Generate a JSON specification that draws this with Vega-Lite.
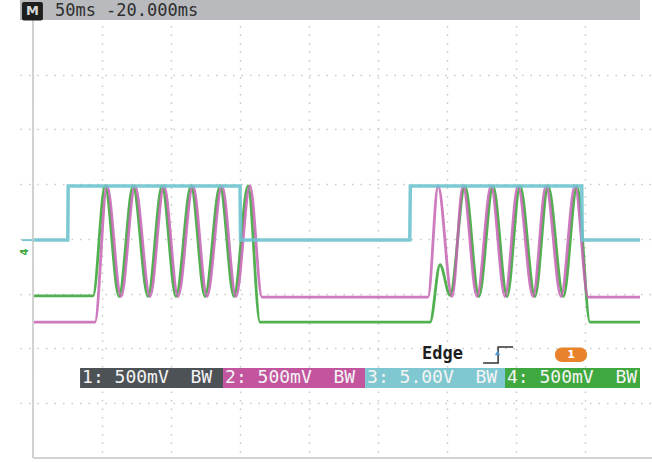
{
  "$schema": "https://vega.github.io/schema/vega-lite/v6.json",
  "width": 632,
  "height": 458,
  "autosize": {"type": "none"},
  "padding": {"left": 20, "top": 0, "right": 0, "bottom": 4},
  "background": "white",
  "config": {"view": {"stroke": null}},
  "data": {"values": [{}]},
  "datasets": {
    "traces": [
      {"ch": "4", "t": 0, "v": 2.96}, {"ch": "4", "t": 43.5, "v": 2.96}, {"ch": "4", "t": 52.2, "v": 4.97}, {"ch": "4", "t": 62.3, "v": 2.95}, {"ch": "4", "t": 72.5, "v": 4.97}, {"ch": "4", "t": 83.3, "v": 2.95}, {"ch": "4", "t": 93.5, "v": 4.97}, {"ch": "4", "t": 103.6, "v": 2.95}, {"ch": "4", "t": 114.5, "v": 4.97}, {"ch": "4", "t": 124.6, "v": 2.95}, {"ch": "4", "t": 135.5, "v": 4.97}, {"ch": "4", "t": 145.6, "v": 2.95}, {"ch": "4", "t": 155.8, "v": 4.97}, {"ch": "4", "t": 164.5, "v": 2.48}, {"ch": "4", "t": 287.7, "v": 2.48}, {"ch": "4", "t": 294.9, "v": 3.53}, {"ch": "4", "t": 302.2, "v": 2.97}, {"ch": "4", "t": 313.0, "v": 4.97}, {"ch": "4", "t": 323.1, "v": 2.95}, {"ch": "4", "t": 333.3, "v": 4.97}, {"ch": "4", "t": 343.5, "v": 2.95}, {"ch": "4", "t": 352.9, "v": 4.97}, {"ch": "4", "t": 363.7, "v": 2.95}, {"ch": "4", "t": 373.2, "v": 4.97}, {"ch": "4", "t": 384.3, "v": 2.95}, {"ch": "4", "t": 394.2, "v": 4.97}, {"ch": "4", "t": 403.6, "v": 2.48}, {"ch": "4", "t": 439.8, "v": 2.48},
      {"ch": "2", "t": 0, "v": 2.48}, {"ch": "2", "t": 44.9, "v": 2.48}, {"ch": "2", "t": 53.6, "v": 4.97}, {"ch": "2", "t": 63.8, "v": 2.95}, {"ch": "2", "t": 73.9, "v": 4.97}, {"ch": "2", "t": 84.8, "v": 2.95}, {"ch": "2", "t": 94.9, "v": 4.97}, {"ch": "2", "t": 105.1, "v": 2.95}, {"ch": "2", "t": 115.9, "v": 4.97}, {"ch": "2", "t": 126.1, "v": 2.95}, {"ch": "2", "t": 136.9, "v": 4.97}, {"ch": "2", "t": 147.1, "v": 2.95}, {"ch": "2", "t": 157.2, "v": 4.97}, {"ch": "2", "t": 165.9, "v": 2.94}, {"ch": "2", "t": 286.2, "v": 2.94}, {"ch": "2", "t": 293.5, "v": 4.97}, {"ch": "2", "t": 303.6, "v": 2.95}, {"ch": "2", "t": 311.6, "v": 4.97}, {"ch": "2", "t": 321.7, "v": 2.95}, {"ch": "2", "t": 331.9, "v": 4.97}, {"ch": "2", "t": 342.0, "v": 2.95}, {"ch": "2", "t": 351.4, "v": 4.97}, {"ch": "2", "t": 362.3, "v": 2.95}, {"ch": "2", "t": 371.7, "v": 4.97}, {"ch": "2", "t": 382.6, "v": 2.95}, {"ch": "2", "t": 392.7, "v": 4.97}, {"ch": "2", "t": 402.2, "v": 2.94}, {"ch": "2", "t": 439.8, "v": 2.94},
      {"ch": "3", "t": 0, "v": 3.98}, {"ch": "3", "t": 25.2, "v": 3.98}, {"ch": "3", "t": 25.5, "v": 4.97}, {"ch": "3", "t": 150.0, "v": 4.97}, {"ch": "3", "t": 150.4, "v": 3.98}, {"ch": "3", "t": 273.0, "v": 3.98}, {"ch": "3", "t": 273.4, "v": 4.97}, {"ch": "3", "t": 397.6, "v": 4.97}, {"ch": "3", "t": 398.0, "v": 3.98}, {"ch": "3", "t": 439.8, "v": 3.98}
    ],
    "channels": [
      {"ch": "1", "label": "1: 500mV\u00a0\u00a0BW", "start": 34.1, "end": 137.7},
      {"ch": "2", "label": "2: 500mV\u00a0\u00a0BW", "start": 137.7, "end": 240.6},
      {"ch": "3", "label": "3: 5.00V\u00a0\u00a0BW", "start": 240.6, "end": 342.0},
      {"ch": "4", "label": "4: 500mV\u00a0\u00a0BW", "start": 342.0, "end": 439.8}
    ]
  },
  "layer": [
    {
      "data": {"name": "traces"},
      "transform": [{"filter": "datum.ch == '4'"}],
      "mark": {"type": "line", "interpolate": "monotone", "strokeWidth": 2.8, "opacity": 0.9},
      "encoding": {
        "x": {"field": "t", "type": "quantitative", "scale": {"domain": [-9.42, 448.5], "nice": false, "zero": false},
          "axis": {"values": [0, 50, 100, 150, 200, 250, 300, 350, 400], "grid": true, "gridColor": "#c8c8c8", "gridDash": [1.5, 7], "gridWidth": 1.5, "labels": false, "ticks": false, "domain": false, "title": null}},
        "y": {"field": "v", "type": "quantitative", "scale": {"domain": [0, 8.365], "nice": false, "zero": false},
          "axis": {"values": [1, 2, 3, 4, 5, 6, 7], "grid": true, "gridColor": "#c8c8c8", "gridDash": [1.5, 7], "gridWidth": 1.5, "labels": false, "ticks": false, "domain": false, "title": null}},
        "color": {"field": "ch", "type": "nominal", "scale": {"domain": ["2", "3", "4"], "range": ["#c463b3", "#6fc4cf", "#3ea93e"]}, "legend": null}
      }
    },
    {
      "data": {"name": "traces"},
      "transform": [{"filter": "datum.ch == '2'"}],
      "mark": {"type": "line", "interpolate": "monotone", "strokeWidth": 2.8, "opacity": 0.85},
      "encoding": {
        "x": {"field": "t", "type": "quantitative"},
        "y": {"field": "v", "type": "quantitative"},
        "color": {"field": "ch", "type": "nominal", "legend": null}
      }
    },
    {
      "data": {"name": "traces"},
      "transform": [{"filter": "datum.ch == '3'"}],
      "mark": {"type": "line", "interpolate": "linear", "strokeWidth": 3.5, "opacity": 0.9},
      "encoding": {
        "x": {"field": "t", "type": "quantitative"},
        "y": {"field": "v", "type": "quantitative"},
        "color": {"field": "ch", "type": "nominal", "legend": null}
      }
    },
    {
      "mark": {"type": "rule", "color": "#d2d2d2", "strokeWidth": 2},
      "encoding": {"x": {"datum": 0}, "y": {"datum": 0}, "y2": {"datum": 8}}
    },
    {
      "mark": {"type": "rule", "color": "#d2d2d2", "strokeWidth": 2},
      "encoding": {"y": {"datum": 0}, "x": {"datum": 0}, "x2": {"datum": 448.5}}
    },
    {
      "mark": {"type": "rule", "color": "#7fc7d0", "strokeWidth": 2},
      "encoding": {"y": {"datum": 3.98}, "x": {"datum": -8.0}, "x2": {"datum": 0}}
    },
    {
      "mark": {"type": "text", "text": "4", "font": "DejaVu Sans", "fontSize": 10, "fontWeight": "bold", "angle": 270, "color": "#3ea93e"},
      "encoding": {"x": {"datum": -5.8}, "y": {"datum": 3.76}}
    },
    {
      "mark": {"type": "rect", "color": "#b9babe"},
      "encoding": {"x": {"datum": -9.42}, "x2": {"datum": 439.8}, "y": {"datum": 8.0}, "y2": {"datum": 8.365}}
    },
    {
      "mark": {"type": "rect", "color": "#1e1e1e", "cornerRadius": 2},
      "encoding": {"x": {"datum": -8.0}, "x2": {"datum": 7.2}, "y": {"datum": 7.99}, "y2": {"datum": 8.33}}
    },
    {
      "mark": {"type": "text", "text": "M", "font": "DejaVu Sans", "fontSize": 13, "fontWeight": "bold", "color": "#d8d8d8", "align": "center", "baseline": "middle"},
      "encoding": {"x": {"datum": -0.4}, "y": {"datum": 8.16}}
    },
    {
      "mark": {"type": "text", "text": "50ms -20.000ms", "font": "DejaVu Sans Mono", "fontSize": 17, "color": "#2e2e2e", "align": "left", "baseline": "middle"},
      "encoding": {"x": {"datum": 15.9}, "y": {"datum": 8.165}}
    },
    {
      "data": {"name": "channels"},
      "mark": {"type": "rect"},
      "encoding": {
        "x": {"field": "start", "type": "quantitative"},
        "x2": {"field": "end"},
        "y": {"datum": 1.279},
        "y2": {"datum": 1.644},
        "fill": {"field": "ch", "type": "nominal", "scale": {"domain": ["1", "2", "3", "4"], "range": ["#4d5257", "#c3559f", "#80c8d1", "#3fa83f"]}, "legend": null}
      }
    },
    {
      "data": {"name": "channels"},
      "mark": {"type": "text", "font": "DejaVu Sans Mono", "fontSize": 18, "color": "#f4f4f4", "align": "left", "baseline": "middle", "dx": 2},
      "encoding": {
        "x": {"field": "start", "type": "quantitative"},
        "y": {"datum": 1.461},
        "text": {"field": "label"}
      }
    },
    {
      "mark": {"type": "text", "text": "Edge", "font": "DejaVu Sans Mono", "fontSize": 17, "fontWeight": "bold", "color": "#1e1e1e", "align": "left", "baseline": "middle"},
      "encoding": {"x": {"datum": 281.9}, "y": {"datum": 1.9}}
    },
    {
      "mark": {"type": "point", "shape": "M -1 0.53 L 0 0.53 L 0 -0.53 L 1 -0.53", "filled": false, "size": 900, "stroke": "#333333", "strokeWidth": 1.5, "opacity": 1},
      "encoding": {"x": {"datum": 337.0}, "y": {"datum": 1.881}}
    },
    {
      "mark": {"type": "point", "shape": "triangle-up", "filled": true, "size": 30, "color": "#4f96cf", "opacity": 1},
      "encoding": {"x": {"datum": 336.6}, "y": {"datum": 1.92}}
    },
    {
      "mark": {"type": "rect", "color": "#e8822b", "cornerRadius": 7},
      "encoding": {"x": {"datum": 378.2}, "x2": {"datum": 401.4}, "y": {"datum": 1.755}, "y2": {"datum": 2.02}}
    },
    {
      "mark": {"type": "text", "text": "1", "font": "DejaVu Sans", "fontSize": 11, "fontWeight": "bold", "color": "white", "align": "center", "baseline": "middle"},
      "encoding": {"x": {"datum": 389.8}, "y": {"datum": 1.89}}
    }
  ]
}
